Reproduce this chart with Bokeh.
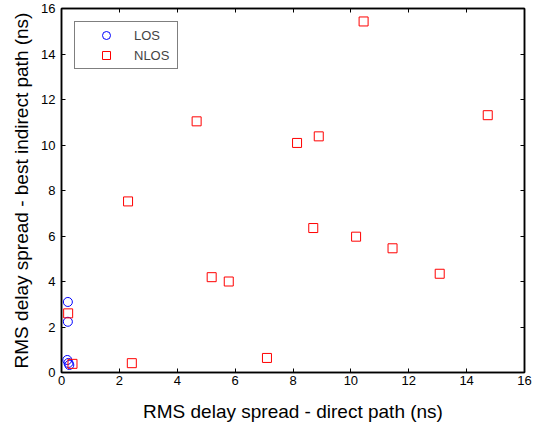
from bokeh.plotting import figure
from bokeh.models import LinearAxis, Range1d, FixedTicker, Legend, LegendItem
from bokeh.embed import file_html
from bokeh.resources import INLINE

# LOS data (x: RMS delay spread direct path, y: best indirect path), ns
los_x = [0.22, 0.22, 0.20, 0.24, 0.27]
los_y = [3.10, 2.23, 0.55, 0.42, 0.33]

# NLOS data
nlos_x = [0.23, 0.38, 2.43, 2.30, 4.67, 5.19, 5.78, 7.10, 8.14, 8.89, 8.70,
          10.44, 10.18, 11.44, 13.07, 14.73]
nlos_y = [2.60, 0.38, 0.41, 7.52, 11.04, 4.19, 4.00, 0.64, 10.09, 10.38, 6.35,
          15.43, 5.97, 5.46, 4.34, 11.31]

ticks = [0, 2, 4, 6, 8, 10, 12, 14, 16]
x_title = "RMS delay spread - direct path (ns)"
y_title = "RMS delay spread - best indirect path (ns)"
series_names = ["LOS", "NLOS"]

FONT = "Liberation Sans"

p = figure(width=533, height=424, output_backend="svg", toolbar_location=None,
           x_range=Range1d(0, 16), y_range=Range1d(0, 16),
           min_border_left=61, min_border_right=9, min_border_top=8,
           min_border_bottom=51)
p.grid.visible = False
p.outline_line_color = "black"
p.outline_line_width = 1.5
p.background_fill_color = "white"
p.border_fill_color = "white"

for ax in (p.xaxis[0], p.yaxis[0]):
    ax.ticker = FixedTicker(ticks=ticks)
    ax.minor_tick_line_color = None
    ax.major_tick_in = 4
    ax.major_tick_out = 0
    ax.axis_line_width = 1.5
    ax.axis_line_color = "black"
    ax.major_tick_line_color = "black"
    ax.major_label_text_font = FONT
    ax.major_label_text_font_size = "13px"
    ax.major_label_text_color = "black"
    ax.axis_label_text_font = FONT
    ax.axis_label_text_font_size = "19px"
    ax.axis_label_text_font_style = "normal"
    ax.axis_label_text_color = "black"

p.xaxis[0].axis_label = x_title
p.yaxis[0].axis_label = y_title
p.xaxis[0].major_label_standoff = 3
p.yaxis[0].major_label_standoff = 6
p.xaxis[0].axis_label_standoff = 13
p.yaxis[0].axis_label_standoff = 6

# Top and right box axes with inward ticks, no labels
blank = {t: "" for t in ticks}
top = LinearAxis(ticker=FixedTicker(ticks=ticks), major_label_overrides=blank,
                 major_tick_in=4, major_tick_out=0, minor_tick_line_color=None,
                 axis_line_width=1.5, major_label_standoff=0)
right = LinearAxis(ticker=FixedTicker(ticks=ticks), major_label_overrides=blank,
                   major_tick_in=4, major_tick_out=0, minor_tick_line_color=None,
                   axis_line_width=1.5, major_label_standoff=0)
p.add_layout(top, "above")
p.add_layout(right, "right")

r_los = p.scatter(los_x, los_y, marker="circle", size=9, fill_alpha=0,
                  line_color="#0000ff", line_width=1)
r_nlos = p.scatter(nlos_x, nlos_y, marker="square", size=9, fill_alpha=0,
                   line_color="#ff0000", line_width=1)

legend = Legend(items=[LegendItem(label=series_names[0], renderers=[r_los]),
                       LegendItem(label=series_names[1], renderers=[r_nlos])],
                location="top_left")
legend.label_text_font = FONT
legend.label_text_font_size = "13px"
legend.border_line_color = "black"
legend.border_line_width = 1
legend.background_fill_alpha = 1
legend.margin = 13
legend.padding = 3
legend.spacing = 0
legend.glyph_width = 56
legend.glyph_height = 20
legend.label_standoff = -2
legend.label_width = 40
p.add_layout(legend)

open("out.html", "w").write(file_html(p, INLINE))
